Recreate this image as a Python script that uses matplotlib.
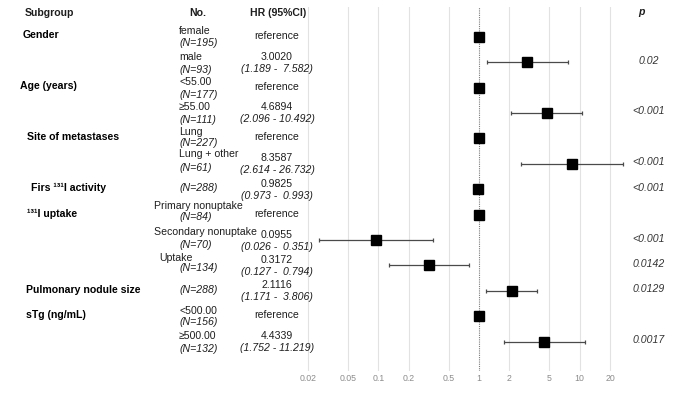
import numpy as np
import matplotlib
matplotlib.use("Agg")
import matplotlib.pyplot as plt
from matplotlib.transforms import blended_transform_factory

plt.rcParams['font.family'] = ['Liberation Sans', 'DejaVu Sans']

# ---------------- data ----------------
group_labels = ["Gender", "Age (years)", "Site of metastases", "Firs \u00b9\u00b3\u00b9I activity",
                "\u00b9\u00b3\u00b9I uptake", "Pulmonary nodule size", "sTg (ng/mL)"]
group_rows = [0, 2, 4, 6, 7, 10, 11]

sub_labels = ["female", "male", "<55.00", "\u226555.00", "Lung", "Lung + other", "",
              "Primary nonuptake", "Secondary nonuptake", "Uptake", "", "<500.00", "\u2265500.00"]
n_values = [195, 93, 177, 111, 227, 61, 288, 84, 70, 134, 288, 156, 132]
is_ref = [True, False, True, False, True, False, False, True, False, False, False, True, False]
hr = [1.0, 3.0020, 1.0, 4.6894, 1.0, 8.3587, 0.9825, 1.0, 0.0955, 0.3172, 2.1116, 1.0, 4.4339]
ci_low = [np.nan, 1.189, np.nan, 2.096, np.nan, 2.614, 0.973, np.nan, 0.026, 0.127, 1.171, np.nan, 1.752]
ci_high = [np.nan, 7.582, np.nan, 10.492, np.nan, 26.732, 0.993, np.nan, 0.351, 0.794, 3.806, np.nan, 11.219]
p_values = ["", "0.02", "", "<0.001", "", "<0.001", "<0.001", "", "<0.001", "0.0142", "0.0129", "", "0.0017"]
x_ticks = [0.02, 0.05, 0.1, 0.2, 0.5, 1, 2, 5, 10, 20]
x_ticklabels = ["0.02", "0.05", "0.1", "0.2", "0.5", "1", "2", "5", "10", "20"]

# ---------------- layout / style ----------------
W, H = 685, 393
ROW_PX = 25.42
group_x_px = [22.7, 20, 26.7, 31, 27, 26, 26]
sub_x_px = [179, 179, 179, 179, 179, 179, 179, 154, 154, 159, 179, 179, 179]
sub_dy_px = [(-6, 6), (-5, 7.5), (-6, 7), (-6, 7), (-6, 4.5), (-9.5, 4.5), (0, 0),
             (-9, 2.5), (-8, 4.5), (-7.5, 2.5), (0, 0), (-5.5, 6), (-5.5, 7.5)]
FS = 7.6
TXT = '#1e1e1e'

fig = plt.figure(figsize=(W / 100, H / 100), dpi=100)
xlo, xhi = 0.015, 30
px_per_dec = 100.7
x1 = 479
left_px = x1 + np.log10(xlo) * px_per_dec
right_px = x1 + np.log10(xhi) * px_per_dec
top_px, bot_px = 7, 371
ax = fig.add_axes([left_px / W, (H - bot_px) / H, (right_px - left_px) / W, (bot_px - top_px) / H])
row0_px = 36.7
ax.set_xscale('log')
ax.set_xlim(xlo, xhi)
ax.set_ylim((bot_px - row0_px) / ROW_PX, (top_px - row0_px) / ROW_PX)
for s in ax.spines.values():
    s.set_visible(False)
ax.set_yticks([])
ax.set_xticks(x_ticks)
ax.set_xticklabels(x_ticklabels)
ax.minorticks_off()
ax.tick_params(axis='x', length=0, pad=2, labelsize=6.3, labelcolor='#8c8c8c')
for t in x_ticks:
    if t == 1:
        ax.axvline(t, color='#7a7a7a', lw=0.8, ls=(0, (1, 1)), zorder=1)
    else:
        ax.axvline(t, color='#e2e2e2', lw=0.8, zorder=0)

rows = np.arange(len(hr))
hr_a = np.array(hr)
lo_a = np.array(ci_low)
hi_a = np.array(ci_high)
mask = ~np.isnan(lo_a)
ax.errorbar(hr_a[mask], rows[mask],
            xerr=[hr_a[mask] - lo_a[mask], hi_a[mask] - hr_a[mask]],
            fmt='none', ecolor='#4a4a4a', elinewidth=0.9, capsize=1.6, capthick=0.9, zorder=2)
ax.plot(hr_a, rows, 's', color='black', markersize=6.6, zorder=3)

tr = blended_transform_factory(fig.transFigure, ax.transData)

def ty(row, dy_px=0.0):
    return row + dy_px / ROW_PX

# headers
hdr_row = (13 - row0_px) / ROW_PX
ax.text(25 / W, hdr_row, "Subgroup", transform=tr, ha='left', va='center', fontsize=FS,
        fontweight='bold', color=TXT)
ax.text(198 / W, hdr_row, "No.", transform=tr, ha='center', va='center', fontsize=FS,
        fontweight='bold', color=TXT)
ax.text(278.5 / W, hdr_row, "HR (95%CI)", transform=tr, ha='center', va='center', fontsize=FS,
        fontweight='bold', color=TXT)
ax.text(641 / W, hdr_row - 0.04, "p", transform=tr, ha='center', va='center', fontsize=FS,
        fontweight='bold', fontstyle='italic', color=TXT)

# group labels
for lab, r, xp in zip(group_labels, group_rows, group_x_px):
    ax.text(xp / W, ty(r, -1.2), lab, transform=tr, ha='left', va='center', fontsize=FS,
            fontweight='bold', color='black')

# rows
for i in rows:
    sub = sub_labels[i]
    ntxt = f"(N={n_values[i]})"
    up, dn = sub_dy_px[i]
    if sub:
        ax.text(sub_x_px[i] / W, ty(i, up), sub, transform=tr, ha='left', va='center',
                fontsize=FS, color=TXT)
        ax.text(179 / W, ty(i, dn), ntxt, transform=tr, ha='left', va='center',
                fontsize=FS, color=TXT, fontstyle='italic')
    else:
        ax.text(179 / W, ty(i, -1), ntxt, transform=tr, ha='left', va='center',
                fontsize=FS, color=TXT, fontstyle='italic')
    if is_ref[i]:
        ax.text(277 / W, ty(i, -1), "reference", transform=tr, ha='center', va='center',
                fontsize=FS, color=TXT)
    else:
        ax.text(277 / W, ty(i, -5.5), f"{hr[i]:.4f}", transform=tr, ha='center', va='center',
                fontsize=FS, color=TXT)
        ax.text(277 / W, ty(i, 6.5), f"({ci_low[i]:.3f} - {ci_high[i]:>6.3f})".replace("-  ", "-  "),
                transform=tr, ha='center', va='center', fontsize=FS, color=TXT, fontstyle='italic')
    if p_values[i]:
        ax.text(649 / W, ty(i, -1.5), p_values[i], transform=tr, ha='center', va='center',
                fontsize=FS, color='#333333', fontstyle='italic')

fig.savefig("out.png", dpi=100)
